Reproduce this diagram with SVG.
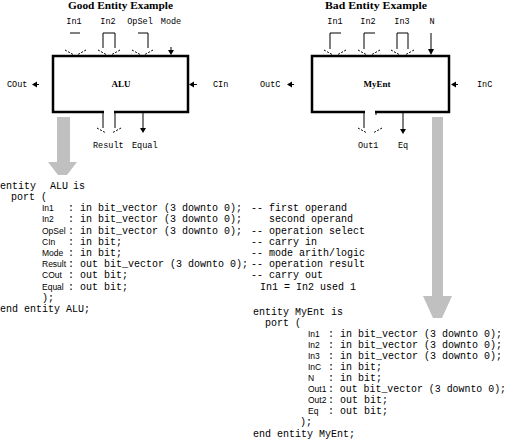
<svg xmlns="http://www.w3.org/2000/svg" width="510" height="443" viewBox="0 0 510 443">
<style>
.title{font-family:"Liberation Serif",serif;font-weight:bold;font-size:10px;fill:#000}
.lbl{font-family:"Liberation Mono",monospace;font-size:8.5px;fill:#000}
.name{font-family:"Liberation Serif",serif;font-weight:bold;font-size:9px;fill:#000}
.code{font-family:"Liberation Mono",monospace;font-size:10px;fill:#000}
.nm{font-family:"Liberation Sans",Arial,sans-serif;font-size:8.5px;fill:#000}
.box{fill:#fff;stroke:#000;stroke-width:2.5}
.w{stroke:#000;stroke-width:1;fill:none}
.d{stroke:#000;stroke-width:1;stroke-dasharray:2 1.5;fill:none}
.ah{fill:#000}
.gray{fill:#c0c0c0}
</style>
<rect width="510" height="443" fill="#fff"/>
<text class="title" x="68" y="9" textLength="105" lengthAdjust="spacingAndGlyphs">Good Entity Example</text>
<text class="title" x="325" y="9" textLength="102" lengthAdjust="spacingAndGlyphs">Bad Entity Example</text>

<g id="alu">
<rect class="box" x="53" y="56" width="135" height="56"/>
<rect x="104" y="110" width="10" height="4" fill="#fff"/>
<text class="name" x="121" y="87" text-anchor="middle">ALU</text>
</g>
<g id="myent">
<rect class="box" x="312" y="56" width="137" height="56"/>
<rect x="365" y="110" width="10" height="4" fill="#fff"/>
<text class="name" x="377" y="87" text-anchor="middle">MyEnt</text>
</g>

<g id="alu-ports">
<text class="lbl" x="74" y="24" text-anchor="middle">In1</text>
<text class="lbl" x="108" y="24" text-anchor="middle">In2</text>
<text class="lbl" x="140" y="24" text-anchor="middle">OpSel</text>
<text class="lbl" x="171" y="24" text-anchor="middle">Mode</text>
<text class="lbl" x="7" y="87">COut</text>
<text class="lbl" x="213" y="87">CIn</text>
<text class="lbl" x="93" y="148">Result</text>
<text class="lbl" x="132" y="148">Equal</text>
</g>
<g id="myent-ports">
<text class="lbl" x="335" y="24" text-anchor="middle">In1</text>
<text class="lbl" x="368" y="24" text-anchor="middle">In2</text>
<text class="lbl" x="402" y="24" text-anchor="middle">In3</text>
<text class="lbl" x="432" y="24" text-anchor="middle">N</text>
<text class="lbl" x="260" y="87">OutC</text>
<text class="lbl" x="477" y="87">InC</text>
<text class="lbl" x="358" y="148">Out1</text>
<text class="lbl" x="398" y="148">Eq</text>
</g>

<g id="connectors">
<path class="w" d="M70,33 H80"/>
<path class="d" d="M65,50 L74,55 M86,50 L77,55"/>
<path class="w" d="M103,48 V33 H115 V48"/>
<path class="d" d="M98,50 L107,55 M120,50 L111,55"/>
<path class="w" d="M138,33 H148 V48"/>
<path class="d" d="M132,50 L141,55 M153,50 L144,55"/>
<path class="w" d="M171,47 V51"/>
<polygon class="ah" points="168,50 174,50 171,55"/>
<polygon class="ah" points="32,84.5 37,81.5 37,87.5"/>
<path class="w" d="M37,84.5 H39"/>
<polygon class="ah" points="189,84.5 194,81.5 194,87.5"/>
<path class="w" d="M194,84.5 H197"/>
<path class="w" d="M103,111 V128 M115,111 V128"/>
<path class="d" d="M97,128 L106,133 M121,128 L112,133"/>
<path class="w" d="M143,113 V129"/>
<polygon class="ah" points="140,128 146,128 143,133"/>
<path class="w" d="M330,49 V33 H341"/>
<path class="d" d="M324,50 L333,55 M346,50 L337,55"/>
<path class="w" d="M364,49 V33 H375"/>
<path class="d" d="M358,50 L367,55 M380,50 L371,55"/>
<path class="w" d="M397,49 V33 H408 V49"/>
<path class="d" d="M391,50 L400,55 M414,50 L405,55"/>
<path class="w" d="M431,33 V50"/>
<polygon class="ah" points="428,49 434,49 431,55"/>
<polygon class="ah" points="287,84.5 292,81.5 292,87.5"/>
<path class="w" d="M292,84.5 H294"/>
<polygon class="ah" points="451,84.5 456,81.5 456,87.5"/>
<path class="w" d="M456,84.5 H458"/>
<path class="w" d="M364,111 V128 M376,111 V115"/>
<path class="d" d="M358,128 L367,133 M382,128 L373,133"/>
<path class="w" d="M403,113 V130"/>
<polygon class="ah" points="400,129 406,129 403,134"/>
</g>

<g id="gray-arrows">
<rect class="gray" x="57" y="117" width="13" height="46"/>
<polygon class="gray" points="48,162 77,162 67,175 58,175"/>
<rect class="gray" x="432" y="117" width="11" height="180"/>
<polygon class="gray" points="423,296 452,296 442,318 433,318"/>
</g>

<g id="code-alu">
<text class="code" y="188.5"><tspan x="0">entity</tspan><tspan x="50">ALU</tspan><tspan x="73">is</tspan></text>
<text class="code" x="11" y="199.5">port (</text>
<text class="nm" x="42" y="210.5">In1</text>
<text class="nm" x="42" y="222">In2</text>
<text class="nm" x="42" y="233.5">OpSel</text>
<text class="nm" x="42" y="244.5">CIn</text>
<text class="nm" x="42" y="255.5">Mode</text>
<text class="nm" x="42" y="266.5">Result</text>
<text class="nm" x="42" y="278">COut</text>
<text class="nm" x="42" y="289.5">Equal</text>
<text class="code" x="68" y="210.5">: in bit_vector (3 downto 0);</text>
<text class="code" x="68" y="222">: in bit_vector (3 downto 0);</text>
<text class="code" x="68" y="233.5">: in bit_vector (3 downto 0);</text>
<text class="code" x="68" y="244.5">: in bit;</text>
<text class="code" x="68" y="255.5">: in bit;</text>
<text class="code" x="68" y="266.5">: out bit_vector (3 downto 0);</text>
<text class="code" x="68" y="278">: out bit;</text>
<text class="code" x="68" y="289.5">: out bit;</text>
<text class="code" x="251" y="210.5">-- first operand</text>
<text class="code" x="269" y="222">second operand</text>
<text class="code" x="251" y="233.5">-- operation select</text>
<text class="code" x="251" y="244.5">-- carry in</text>
<text class="code" x="251" y="255.5">-- mode arith/logic</text>
<text class="code" x="251" y="266.5">-- operation result</text>
<text class="code" x="251" y="278">-- carry out</text>
<text class="code" x="260" y="289.5">In1 = In2 used 1</text>
<text class="code" x="42" y="300.5">);</text>
<text class="code" x="0" y="311.5">end entity ALU;</text>
</g>

<g id="code-myent">
<text class="code" y="314.5"><tspan x="253">entity</tspan><tspan x="295">MyEnt is</tspan></text>
<text class="code" x="265" y="325.5">port (</text>
<text class="nm" x="308" y="336.5">In1</text>
<text class="nm" x="308" y="347.5">In2</text>
<text class="nm" x="308" y="358.5">In3</text>
<text class="nm" x="308" y="369.5">InC</text>
<text class="nm" x="308" y="380.5">N</text>
<text class="nm" x="308" y="392">Out1</text>
<text class="nm" x="308" y="403">Out2</text>
<text class="nm" x="308" y="414">Eq</text>
<text class="code" x="328" y="336.5">: in bit_vector (3 downto 0);</text>
<text class="code" x="328" y="347.5">: in bit_vector (3 downto 0);</text>
<text class="code" x="328" y="358.5">: in bit_vector (3 downto 0);</text>
<text class="code" x="328" y="369.5">: in bit;</text>
<text class="code" x="328" y="380.5">: in bit;</text>
<text class="code" x="328" y="392" textLength="178" lengthAdjust="spacingAndGlyphs">: out bit_vector (3 downto 0);</text>
<text class="code" x="328" y="403">: out bit;</text>
<text class="code" x="328" y="414">: out bit;</text>
<text class="code" x="300" y="425">);</text>
<text class="code" x="253" y="436.5">end entity MyEnt;</text>
</g>
</svg>
